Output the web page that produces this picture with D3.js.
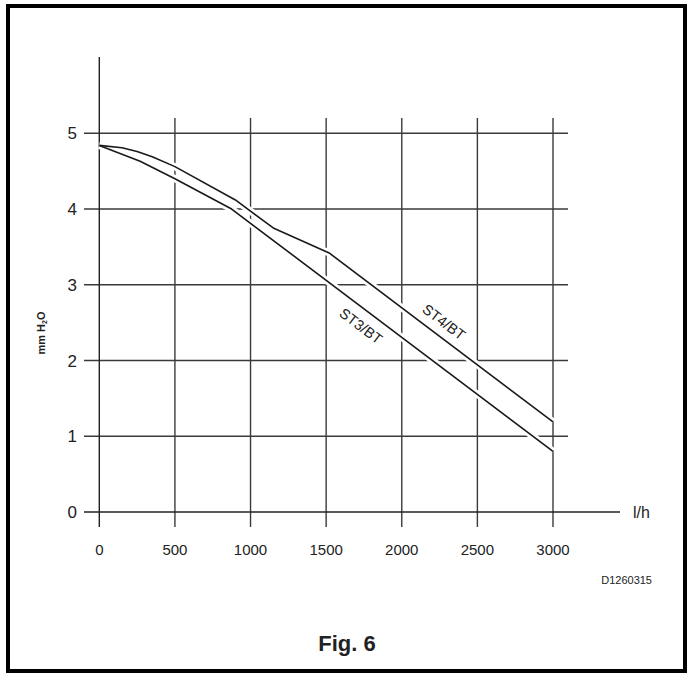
<!DOCTYPE html>
<html>
<head>
<meta charset="utf-8">
<script src="https://cdn.jsdelivr.net/npm/d3@7"></script>
<style>
  body { margin: 0; background: #fff; }
  text { font-family: "Liberation Sans", Arial, sans-serif; fill: #222; }
</style>
</head>
<body>
<div id="chart"></div>
<script>
var svgWidth = 693;
var svgHeight = 676;

// flow (l/h) vs pressure drop (mm H2O)
var st3Flow = [0, 270, 500, 875, 3000];
var st3Drop = [4.84, 4.63, 4.40, 4.00, 0.80];

var st4Flow = [0, 150, 250, 350, 500, 900, 1150, 1520, 3000];
var st4Drop = [4.84, 4.81, 4.76, 4.69, 4.56, 4.12, 3.75, 3.42, 1.19];

var xTicks = [0, 500, 1000, 1500, 2000, 2500, 3000];
var yTicks = [0, 1, 2, 3, 4, 5];

var svg = d3.select("#chart")
  .append("svg")
  .attr("width", svgWidth)
  .attr("height", svgHeight);

svg.append("rect")
  .attr("width", svgWidth)
  .attr("height", svgHeight)
  .attr("fill", "#fff");

// outer frame
svg.append("rect")
  .attr("x", 8)
  .attr("y", 6)
  .attr("width", 677)
  .attr("height", 665)
  .attr("fill", "none")
  .attr("stroke", "#000")
  .attr("stroke-width", 4);

var xScale = d3.scaleLinear().domain([0, 3000]).range([99.3, 553]);
var yScale = d3.scaleLinear().domain([0, 5]).range([512, 133.3]);

var grid = svg.append("g");

// horizontal grid lines
grid.selectAll(".hgrid")
  .data(yTicks.filter(d => d > 0))
  .enter()
  .append("line")
  .attr("x1", 84)
  .attr("x2", 568)
  .attr("y1", d => yScale(d))
  .attr("y2", d => yScale(d))
  .attr("stroke", "#3a3a3a")
  .attr("stroke-width", 1.4);

// vertical grid lines
grid.selectAll(".vgrid")
  .data(xTicks.filter(d => d > 0))
  .enter()
  .append("line")
  .attr("x1", d => xScale(d))
  .attr("x2", d => xScale(d))
  .attr("y1", 118)
  .attr("y2", 527)
  .attr("stroke", "#3a3a3a")
  .attr("stroke-width", 1.4);

// axes
svg.append("line")
  .attr("x1", 84).attr("x2", 620)
  .attr("y1", yScale(0)).attr("y2", yScale(0))
  .attr("stroke", "#222").attr("stroke-width", 1.4);

svg.append("line")
  .attr("x1", xScale(0)).attr("x2", xScale(0))
  .attr("y1", 57).attr("y2", 527)
  .attr("stroke", "#222").attr("stroke-width", 1.4);

// tick labels
svg.selectAll(".ylab")
  .data(yTicks)
  .enter()
  .append("text")
  .attr("x", 77)
  .attr("y", d => yScale(d) + 6)
  .attr("text-anchor", "end")
  .style("font-size", "17px")
  .text(d => d);

svg.selectAll(".xlab")
  .data(xTicks)
  .enter()
  .append("text")
  .attr("x", d => xScale(d))
  .attr("y", 555)
  .attr("text-anchor", "middle")
  .style("font-size", "15px")
  .text(d => d);

svg.append("text")
  .attr("x", 633)
  .attr("y", 518)
  .style("font-size", "16px")
  .text("l/h");

var yTitle = svg.append("text")
  .attr("transform", "translate(45, 333) rotate(-90)")
  .attr("text-anchor", "middle")
  .style("font-size", "11px")
  .style("font-weight", "bold");
yTitle.append("tspan").text("mm H");
yTitle.append("tspan").style("font-size", "7px").attr("dy", 2).text("2");
yTitle.append("tspan").attr("dy", -2).text("O");

svg.append("text")
  .attr("x", 652)
  .attr("y", 584)
  .attr("text-anchor", "end")
  .style("font-size", "11px")
  .text("D1260315");

svg.append("text")
  .attr("x", 347)
  .attr("y", 651)
  .attr("text-anchor", "middle")
  .style("font-size", "22px")
  .style("font-weight", "bold")
  .text("Fig. 6");

// curves with a white halo that breaks the grid
var line = d3.line()
  .x(d => xScale(d[0]))
  .y(d => yScale(d[1]));

var series = [
  d3.zip(st3Flow, st3Drop),
  d3.zip(st4Flow, st4Drop)
];

var curves = svg.append("g");
curves.selectAll(".halo")
  .data(series)
  .enter()
  .append("path")
  .attr("d", line)
  .attr("fill", "none")
  .attr("stroke", "#fff")
  .attr("stroke-width", 7)
  .attr("stroke-linejoin", "round");

curves.selectAll(".curve")
  .data(series)
  .enter()
  .append("path")
  .attr("d", line)
  .attr("fill", "none")
  .attr("stroke", "#1a1a1a")
  .attr("stroke-width", 1.6)
  .attr("stroke-linejoin", "round");

// series labels, rotated along the lines
var angle = Math.atan2(yScale(0.8) - yScale(4.0), xScale(3000) - xScale(875)) * 180 / Math.PI;

svg.append("text")
  .attr("transform", `translate(361, 326) rotate(${angle})`)
  .attr("text-anchor", "middle")
  .attr("dy", "0.35em")
  .style("font-size", "14.5px")
  .text("ST3/BT");

svg.append("text")
  .attr("transform", `translate(444, 322) rotate(${angle})`)
  .attr("text-anchor", "middle")
  .attr("dy", "0.35em")
  .style("font-size", "14.5px")
  .text("ST4/BT");
</script>
</body>
</html>
